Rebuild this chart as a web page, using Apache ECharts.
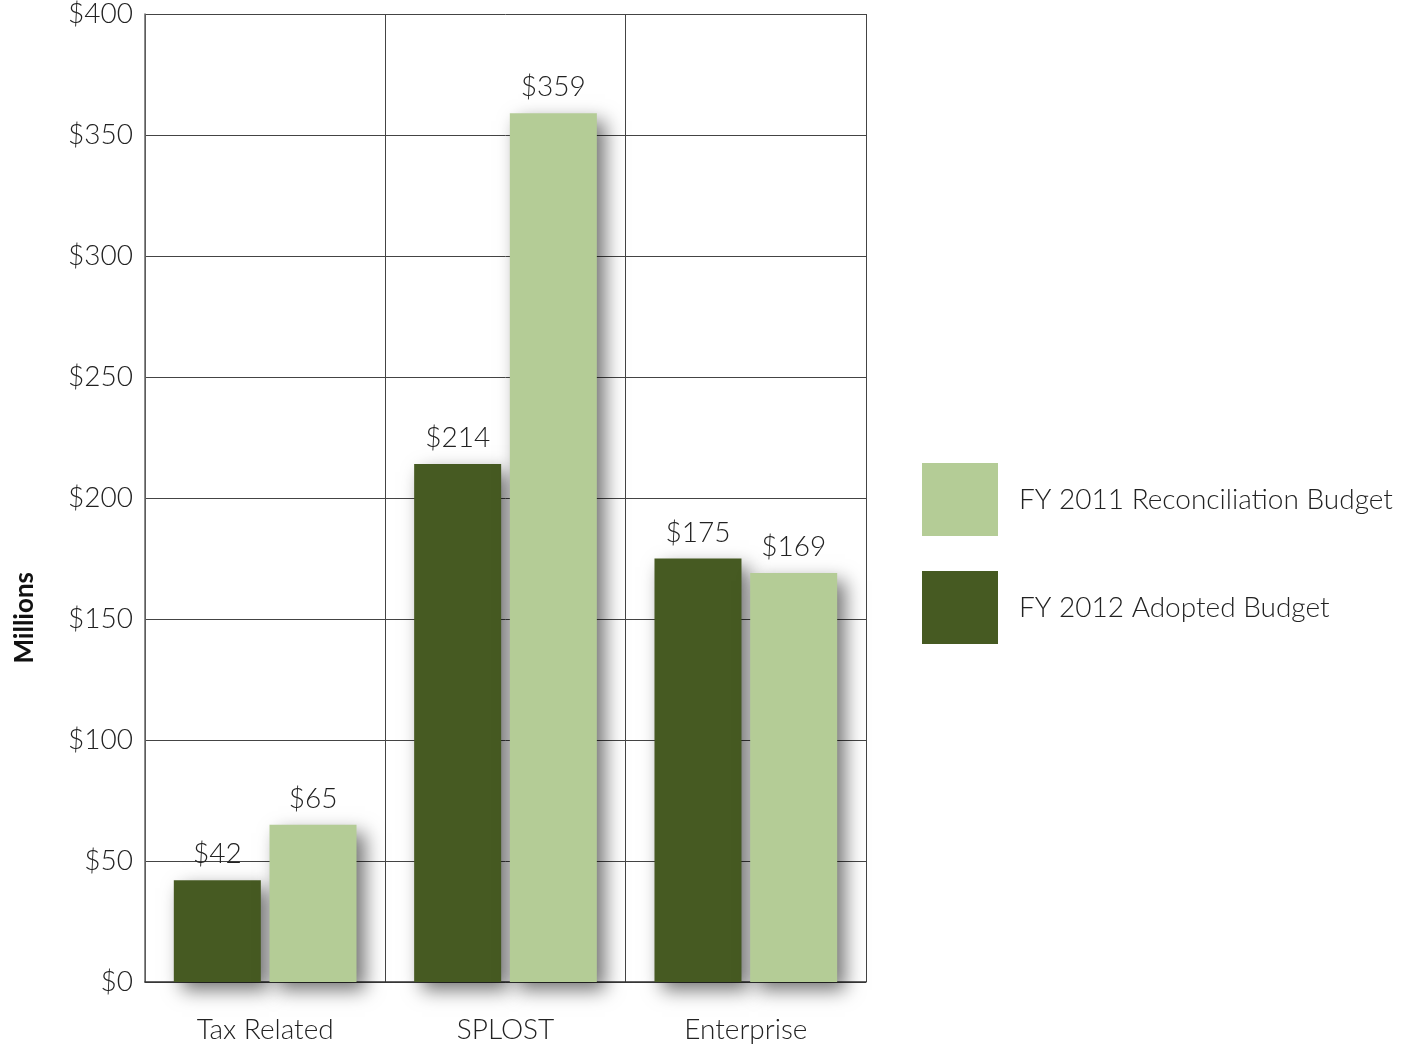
<!DOCTYPE html>
<html>
<head>
<meta charset="utf-8">
<script src="https://cdn.jsdelivr.net/npm/echarts@6/dist/echarts.min.js"></script>
<style>
html,body{margin:0;padding:0;background:#fff;}
#c{width:1412px;height:1049px;}
</style>
</head>
<body>
<div id="c"></div>
<script>
var categories = ['Tax Related', 'SPLOST', 'Enterprise'];
var fy2012Adopted = [42, 214, 175];
var fy2011Reconciliation = [65, 359, 169];
var seriesNames = ['FY 2012 Adopted Budget', 'FY 2011 Reconciliation Budget'];
var yTicks = { min: 0, max: 400, interval: 50 };
var yAxisTitle = 'Millions';

var FONT = 'Lato, "Open Sans", sans-serif';
var chart = echarts.init(document.getElementById('c'));
var labelCfg = {
  show: true, position: 'top', distance: 12,
  fontFamily: FONT, fontSize: 28, fontWeight: 300, color: '#222',
  formatter: function (p) { return '$' + p.value; }
};
var shadow = { shadowBlur: 18, shadowColor: 'rgba(0,0,0,0.55)', shadowOffsetX: 8, shadowOffsetY: 8 };
chart.setOption({
  animation: false,
  backgroundColor: '#fff',
  grid: { left: 145, right: 546, top: 14, bottom: 67, outerBoundsMode: 'none', containLabel: false },
  graphic: [{
    type: 'text', left: 12, top: 572, rotation: Math.PI / 2,
    style: { text: yAxisTitle, fontFamily: FONT, fontSize: 26, fontWeight: 'bold', fill: '#111' }
  }],
  legend: {
    orient: 'vertical', left: 922, top: 463,
    data: [seriesNames[1], seriesNames[0]],
    itemWidth: 76, itemHeight: 73, itemGap: 35,
    icon: 'rect', padding: 0,
    textStyle: { fontFamily: FONT, fontSize: 28, fontWeight: 300, color: '#222', padding: [0, 0, 0, 16] }
  },
  xAxis: {
    type: 'category', data: categories,
    axisLine: { show: true, lineStyle: { color: '#333', width: 1.5 } },
    axisTick: { show: false },
    splitLine: { show: true, lineStyle: { color: '#444', width: 1 } },
    axisLabel: { margin: 34, fontFamily: FONT, fontSize: 28, fontWeight: 300, color: '#222' }
  },
  yAxis: {
    type: 'value', min: yTicks.min, max: yTicks.max, interval: yTicks.interval,
    axisLine: { show: true, lineStyle: { color: '#666', width: 1.5 } },
    axisTick: { show: false },
    splitLine: { show: true, lineStyle: { color: '#444', width: 1 } },
    axisLabel: { margin: 12, fontFamily: FONT, fontSize: 28, fontWeight: 300, color: '#222',
      padding: [8, 0, 0, 0],
      formatter: function (v) { return '$' + v; } }
  },
  series: [
    { name: seriesNames[0], type: 'bar', data: fy2012Adopted, barWidth: 87, barGap: '10%',
      itemStyle: Object.assign({ color: '#465a22' }, shadow), label: labelCfg },
    { name: seriesNames[1], type: 'bar', data: fy2011Reconciliation, barWidth: 87, barGap: '10%',
      itemStyle: Object.assign({ color: '#b4cc96' }, shadow), label: labelCfg }
  ]
});
</script>
</body>
</html>
